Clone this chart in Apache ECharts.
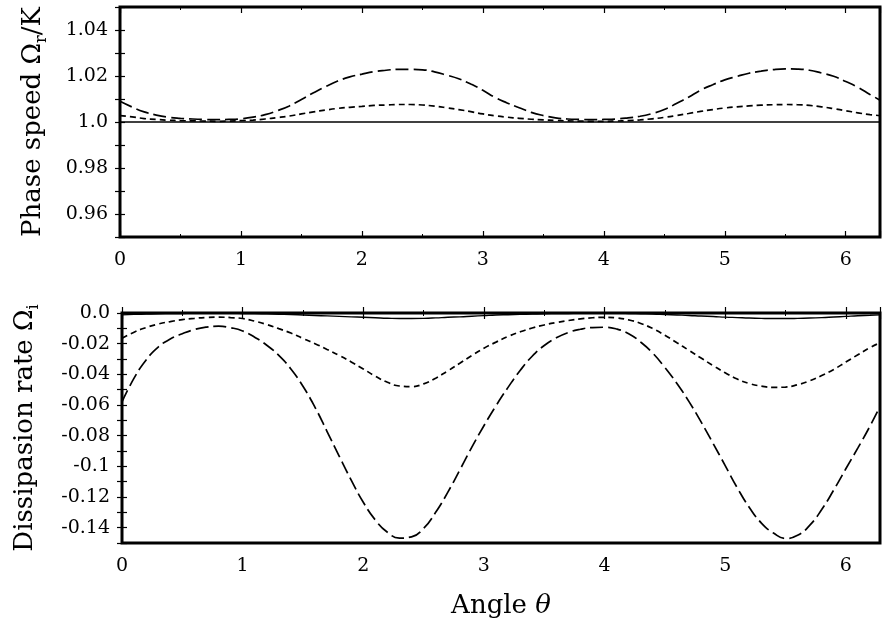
<!DOCTYPE html>
<html>
<head>
<meta charset="utf-8">
<script src="https://cdn.jsdelivr.net/npm/echarts@6/dist/echarts.min.js"></script>
<style>html,body{margin:0;padding:0;background:#fff;}#c{width:888px;height:625px;}</style>
</head>
<body>
<div id="c"></div>
<script>
const theta = [0,0.1,0.2,0.3,0.4,0.5,0.6,0.7,0.8,0.9,1.0,1.1,1.2,1.3,1.4,1.5,1.6,1.7,1.8,1.9,2.0,2.1,2.2,2.3,2.4,2.5,2.6,2.7,2.8,2.9,3.0,3.1,3.2,3.3,3.4,3.5,3.6,3.7,3.8,3.9,4.0,4.1,4.2,4.3,4.4,4.5,4.6,4.7,4.8,4.9,5.0,5.1,5.2,5.3,5.4,5.5,5.6,5.7,5.8,5.9,6.0,6.1,6.2,6.2832];

// Top panel: phase speed
const thetaSolidTop = [0, 6.2832];
const topSolid = [1.0, 1.0];
const topShort = [1.0028,1.0022,1.0015,1.0011,1.0008,1.0006,1.0005,1.0004,1.0003,1.0004,1.0006,1.0008,1.0013,1.0019,1.0026,1.0035,1.0044,1.0052,1.0059,1.0064,1.0068,1.0072,1.0074,1.0076,1.0076,1.0074,1.0069,1.0062,1.0054,1.0045,1.0035,1.0027,1.0021,1.0016,1.0012,1.0009,1.0007,1.0005,1.0004,1.0003,1.0003,1.0004,1.0006,1.0009,1.0014,1.0020,1.0028,1.0037,1.0046,1.0054,1.0061,1.0066,1.0070,1.0073,1.0075,1.0076,1.0075,1.0072,1.0066,1.0058,1.0049,1.0040,1.0032,1.0028];
const topLong = [1.0090,1.0065,1.0044,1.0030,1.0021,1.0016,1.0013,1.0011,1.0010,1.0011,1.0014,1.0021,1.0032,1.0049,1.0070,1.0098,1.0127,1.0154,1.0178,1.0196,1.0208,1.0219,1.0225,1.0229,1.0229,1.0227,1.0218,1.0204,1.0188,1.0165,1.0138,1.0107,1.0083,1.0062,1.0042,1.0028,1.0018,1.0013,1.0011,1.0010,1.0011,1.0013,1.0018,1.0025,1.0037,1.0054,1.0080,1.0108,1.0138,1.0162,1.0183,1.0198,1.0212,1.0221,1.0228,1.0231,1.0230,1.0225,1.0213,1.0199,1.0176,1.0151,1.0120,1.0095];

// Bottom panel: dissipation rate
const botSolid = [-0.0012,-0.0009,-0.0007,-0.0005,-0.0004,-0.0003,-0.0002,-0.0002,-0.0002,-0.0002,-0.0003,-0.0004,-0.0006,-0.0008,-0.0010,-0.0013,-0.0016,-0.0019,-0.0022,-0.0025,-0.0028,-0.0031,-0.0034,-0.0036,-0.0036,-0.0035,-0.0032,-0.0028,-0.0025,-0.0021,-0.0017,-0.0013,-0.0011,-0.0009,-0.0007,-0.0005,-0.0004,-0.0003,-0.0002,-0.0002,-0.0002,-0.0002,-0.0003,-0.0005,-0.0007,-0.0010,-0.0013,-0.0016,-0.0020,-0.0023,-0.0027,-0.0030,-0.0033,-0.0035,-0.0036,-0.0036,-0.0035,-0.0033,-0.0030,-0.0026,-0.0022,-0.0018,-0.0015,-0.0012];
const botShort = [-0.0165,-0.0125,-0.0095,-0.0072,-0.0056,-0.0043,-0.0035,-0.0029,-0.0027,-0.0030,-0.0036,-0.0053,-0.0075,-0.0102,-0.0131,-0.0166,-0.0200,-0.0238,-0.0277,-0.0319,-0.0365,-0.0412,-0.0452,-0.0476,-0.0480,-0.0462,-0.0425,-0.0378,-0.0328,-0.0277,-0.0230,-0.0190,-0.0153,-0.0123,-0.0098,-0.0078,-0.0062,-0.0049,-0.0038,-0.0031,-0.0028,-0.0032,-0.0045,-0.0068,-0.0102,-0.0145,-0.0194,-0.0244,-0.0294,-0.0343,-0.0390,-0.0431,-0.0460,-0.0477,-0.0485,-0.0483,-0.0468,-0.0442,-0.0408,-0.0368,-0.0320,-0.0272,-0.0226,-0.0194];
const botLong = [-0.0580,-0.0425,-0.0306,-0.0222,-0.0170,-0.0135,-0.0108,-0.0092,-0.0086,-0.0096,-0.0117,-0.0158,-0.0210,-0.0277,-0.0365,-0.0478,-0.0615,-0.0773,-0.0933,-0.1090,-0.1234,-0.1350,-0.1430,-0.1468,-0.1460,-0.1405,-0.1300,-0.1170,-0.1024,-0.0875,-0.0735,-0.0605,-0.0485,-0.0375,-0.0282,-0.0212,-0.0162,-0.0127,-0.0106,-0.0095,-0.0093,-0.0104,-0.0135,-0.0190,-0.0262,-0.0355,-0.0460,-0.0578,-0.0710,-0.0851,-0.0995,-0.1140,-0.1268,-0.1370,-0.1435,-0.1470,-0.1450,-0.1385,-0.1282,-0.1154,-0.1016,-0.0880,-0.0738,-0.0610];

const xTicks = ['0','1','2','3','4','5','6'];

const FONT = 'DejaVu Serif';
const pairs = (xs, ys) => xs.map((t, i) => [t, ys[i]]);

function yFmt(v) {
  const k = Math.round(v * 100);
  if (k % 2 !== 0) return '';
  let s = (k / 100).toFixed(2);
  if (s.endsWith('0')) s = s.slice(0, -1);
  return s;
}

function xAxisDef(gridIndex, pos, showLabels, name) {
  return {
    type: 'value', gridIndex: gridIndex, position: pos, min: 0, max: 6.2832, interval: 1,
    axisLine: { show: false },
    axisTick: { show: true, inside: true, length: 6, lineStyle: { color: '#000', width: 1.2 } },
    minorTick: { show: true, splitNumber: 2, length: 3, lineStyle: { color: '#000', width: 1 } },
    splitLine: { show: false },
    axisLabel: { show: showLabels, margin: 14, color: '#000', fontFamily: FONT, fontSize: 19, showMaxLabel: false,
      formatter: v => { const i = Math.round(v); return Math.abs(v - i) < 1e-6 && i < xTicks.length ? xTicks[i] : ''; } },
    name: name || '',
    nameLocation: 'middle', nameGap: 50,
    nameTextStyle: { color: '#000', fontFamily: FONT, fontSize: 26,
      rich: {
        m: { fontFamily: FONT, fontSize: 26, color: '#000' },
        it: { fontFamily: FONT, fontSize: 26, fontStyle: 'italic', color: '#000' }
      } }
  };
}

function yAxisDef(gridIndex, pos, min, max, showLabels, name, gap) {
  return {
    type: 'value', gridIndex: gridIndex, position: pos, min: min, max: max, interval: 0.01,
    axisLine: { show: false },
    axisTick: { show: true, inside: true, length: 5, lineStyle: { color: '#000', width: 1.2 } },
    splitLine: { show: false },
    axisLabel: { show: showLabels, margin: 12, color: '#000', fontFamily: FONT, fontSize: 19, formatter: yFmt },
    name: name || '',
    nameLocation: 'middle', nameGap: gap || 0, nameRotate: 90,
    nameTextStyle: { color: '#000', fontFamily: FONT, fontSize: 26, lineHeight: 34,
      rich: {
        m: { fontFamily: FONT, fontSize: 26, lineHeight: 34, color: '#000' },
        s: { fontFamily: FONT, fontSize: 16, lineHeight: 16, verticalAlign: 'bottom', color: '#000' }
      } }
  };
}

const chart = echarts.init(document.getElementById('c'), null, { renderer: 'canvas' });
const long = { color: '#000', width: 1.7, type: [13, 5] };
const short = { color: '#000', width: 1.7, type: [6, 4] };
const solid = { color: '#000', width: 1.4, type: 'solid' };
function line(xi, yi, data, style) {
  return { type: 'line', xAxisIndex: xi, yAxisIndex: yi, data: data, showSymbol: false, symbol: 'none',
    smooth: true, lineStyle: style, silent: true };
}

chart.setOption({
  animation: false,
  backgroundColor: '#fff',
  grid: [
    { left: 120, right: 8, top: 7, height: 230, show: true, borderColor: '#000', borderWidth: 3, backgroundColor: 'transparent' },
    { left: 120, right: 8, top: 313, height: 230, show: true, borderColor: '#000', borderWidth: 3, backgroundColor: 'transparent' }
  ],
  xAxis: [
    xAxisDef(0, 'bottom', true),
    xAxisDef(0, 'top', false),
    xAxisDef(1, 'bottom', true, '{m|Angle }{it|θ}'),
    xAxisDef(1, 'top', false)
  ],
  yAxis: [
    yAxisDef(0, 'left', 0.95, 1.05, true, '{m|Phase speed Ω}{s|r}{m|/K}', 70),
    yAxisDef(0, 'right', 0.95, 1.05, false),
    yAxisDef(1, 'left', -0.15, 0, true, '{m|Dissipasion rate Ω}{s|i}', 80),
    yAxisDef(1, 'right', -0.15, 0, false)
  ],
  series: [
    line(0, 0, pairs(thetaSolidTop, topSolid), solid),
    line(0, 0, pairs(theta, topShort), short),
    line(0, 0, pairs(theta, topLong), long),
    line(2, 2, pairs(theta, botSolid), solid),
    line(2, 2, pairs(theta, botShort), short),
    line(2, 2, pairs(theta, botLong), long)
  ]
});
</script>
</body>
</html>
